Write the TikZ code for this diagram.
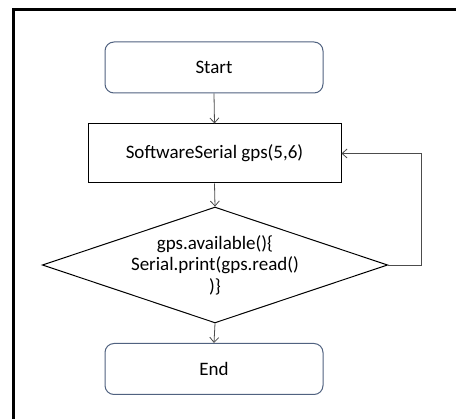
\documentclass[tikz,border=0pt]{standalone}
\usepackage{fontspec}
\setmainfont{Carlito}
\usetikzlibrary{arrows.meta,shapes.geometric}
\definecolor{termblue}{RGB}{80,98,128}
\begin{document}
\begin{tikzpicture}[x=1pt,y=-1pt,
  term/.style={draw=termblue, line width=1pt, rounded corners=9pt, minimum width=218pt, minimum height=51pt, inner sep=0pt, font=\fontsize{19}{22}\selectfont},
  proc/.style={draw=black, line width=1pt, minimum width=253pt, minimum height=59pt, inner sep=0pt, font=\fontsize{19}{22}\selectfont},
  cond/.style={draw=black, line width=1pt, diamond, aspect=2.98, minimum width=338pt, minimum height=113pt, inner sep=0pt, font=\fontsize{19}{21.5}\selectfont, align=center},
  conn/.style={draw=black!70, line width=0.8pt, -{Straight Barb[length=5pt,width=9pt]}}]
\useasboundingbox (0,0) rectangle (456,419);
\fill[white] (0,0) rectangle (456,419);
\draw[line width=3pt, line cap=rect] (13.5,430) -- (13.5,9.5) -- (470,9.5);
\node[term] (start) at (214,67.5) {Start};
\node[proc] (sw) at (214.5,153.5) {SoftwareSerial gps(5,6)};
\node[cond] (dec) at (215,265) {gps.available()\{\\Serial.print(gps.read()\\)\}};
\node[term] (end) at (214,369) {End};
\coordinate (c1) at (421,265);
\coordinate (c2) at (421,153.5);
\draw[conn] (start.south) -- (sw.north);
\draw[conn] (sw.south) -- (dec.north);
\draw[conn] (dec.south) -- (end.north);
\draw[conn] (dec.east) -- (c1) -- (c2) -- (sw.east);
\end{tikzpicture}
\end{document}
